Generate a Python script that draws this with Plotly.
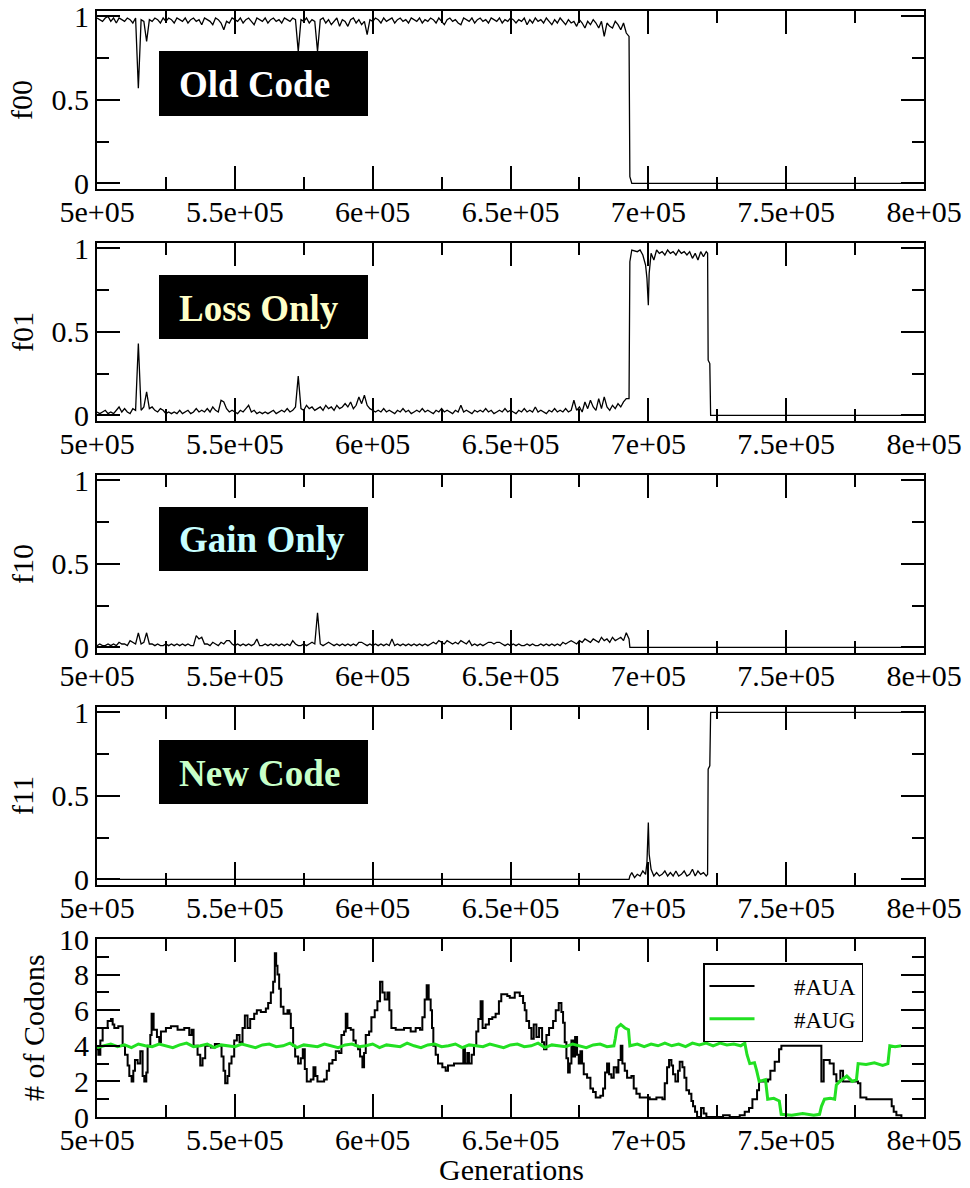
import plotly.graph_objects as go

# ---------------- data ----------------
X_TICK_VALS = [500000, 550000, 600000, 650000, 700000, 750000, 800000]
X_TICK_TEXT = ["5e+05", "5.5e+05", "6e+05", "6.5e+05", "7e+05", "7.5e+05", "8e+05"]
X_MINOR_VALS = [525000, 575000, 625000, 675000, 725000, 775000]
F_TICK_VALS = [0, 0.5, 1]
F_TICK_TEXT = ["0", "0.5", "1"]
F_MINOR_VALS = [0.25, 0.75]
C_TICK_VALS = [0, 2, 4, 6, 8, 10]
C_TICK_TEXT = ["0", "2", "4", "6", "8", "10"]
C_MINOR_VALS = [1, 3, 5, 7, 9]

PANEL_TITLES = ["f00", "f01", "f10", "f11"]
BOX_LABELS = ["Old Code", "Loss Only", "Gain Only", "New Code"]
BOX_TEXT_COLORS = ["#ffffff", "#ffffc8", "#c8ffff", "#c8ffc8"]

# sampled generations for the noisy part (every 1000 generations, 5e5 .. 6.92e5)
F00_GRID_VALS = [0.99, 0.98, 0.97, 0.99, 1.00, 0.97, 0.99, 0.96, 0.99, 0.98,
                 0.97, 0.99, 0.98, 0.96, 0.99, 0.57, 0.98, 0.97, 0.85, 0.98,
                 0.97, 0.99, 0.98, 0.96, 0.99, 0.97, 0.99, 0.98, 0.96, 0.99,
                 0.98, 0.97, 0.99, 0.96, 0.98, 0.99, 0.97, 0.98, 0.95, 0.99,
                 0.98, 0.97, 0.95, 0.99, 0.98, 0.96, 0.92, 0.97, 0.96, 0.99,
                 0.98, 0.97, 0.99, 0.96, 0.98, 0.99, 0.97, 0.95, 0.99, 0.98,
                 0.97, 0.99, 0.96, 0.98, 0.99, 0.97, 0.98, 0.96, 0.99, 0.98,
                 0.97, 0.99, 0.98, 0.79, 0.98, 0.97, 0.99, 0.96, 0.98, 0.97,
                 0.79, 0.98, 0.99, 0.96, 0.98, 0.95, 0.97, 0.99, 0.94, 0.98,
                 0.97, 0.94, 0.98, 0.99, 0.96, 0.98, 0.95, 0.97, 0.89, 0.98,
                 0.97, 0.99, 0.98, 0.96, 0.99, 0.97, 0.98, 0.99, 0.96, 0.98,
                 0.99, 0.97, 0.98, 0.96, 0.99, 0.98, 0.97, 0.99, 0.96, 0.98,
                 0.97, 0.99, 0.98, 0.96, 0.99, 0.97, 0.95, 0.98, 0.99, 0.97,
                 0.98, 0.96, 0.95, 0.99, 0.98, 0.97, 0.99, 0.96, 0.98, 0.99,
                 0.97, 0.98, 0.96, 0.99, 0.98, 0.97, 0.99, 0.96, 0.98, 0.97,
                 0.99, 0.98, 0.96, 0.98, 0.97, 0.99, 0.95, 0.98, 0.96, 0.99,
                 0.97, 0.98, 0.96, 0.99, 0.97, 0.95, 0.98, 0.96, 0.99, 0.97,
                 0.95, 0.98, 0.96, 0.97, 0.94, 0.98, 0.96, 0.93, 0.97, 0.95,
                 0.98, 0.96, 0.93, 0.97, 0.88, 0.96, 0.94, 0.93, 0.97, 0.95,
                 0.92, 0.96, 0.90]
F00_TAIL_GEN = [693000, 693300, 694000, 800000]
F00_TAIL_VAL = [0.88, 0.04, 0.0, 0.0]

F01_GRID_VALS = [0.02, 0.01, 0.02, 0.03, 0.01, 0.02, 0.01, 0.03, 0.05, 0.02,
                 0.04, 0.02, 0.01, 0.04, 0.03, 0.43, 0.03, 0.05, 0.14, 0.04,
                 0.05, 0.03, 0.02, 0.04, 0.03, 0.01, 0.02, 0.01, 0.02, 0.01,
                 0.03, 0.01, 0.02, 0.03, 0.01, 0.02, 0.04, 0.02, 0.03, 0.02,
                 0.04, 0.02, 0.05, 0.03, 0.02, 0.09, 0.08, 0.04, 0.02, 0.03,
                 0.02, 0.01, 0.03, 0.02, 0.04, 0.06, 0.02, 0.03, 0.01, 0.02,
                 0.01, 0.02, 0.01, 0.02, 0.03, 0.01, 0.02, 0.03, 0.02, 0.04,
                 0.02, 0.03, 0.05, 0.235, 0.04, 0.03, 0.06, 0.04, 0.05, 0.03,
                 0.04, 0.05, 0.03, 0.06, 0.04, 0.05, 0.03, 0.06, 0.04, 0.05,
                 0.07, 0.05, 0.08, 0.04, 0.06, 0.11, 0.07, 0.12, 0.06, 0.04,
                 0.03, 0.02, 0.03, 0.02, 0.04, 0.02, 0.03, 0.02, 0.01, 0.03,
                 0.02, 0.04, 0.02, 0.03, 0.01, 0.02, 0.03, 0.02, 0.04, 0.02,
                 0.03, 0.02, 0.01, 0.03, 0.02, 0.04, 0.02, 0.03, 0.02, 0.01,
                 0.03, 0.02, 0.06, 0.02, 0.03, 0.02, 0.01, 0.03, 0.02, 0.03,
                 0.02, 0.04, 0.02, 0.03, 0.01, 0.02, 0.03, 0.02, 0.04, 0.02,
                 0.03, 0.02, 0.01, 0.03, 0.02, 0.04, 0.02, 0.03, 0.02, 0.05,
                 0.02, 0.03, 0.02, 0.01, 0.03, 0.02, 0.04, 0.02, 0.03, 0.02,
                 0.04, 0.02, 0.03, 0.09, 0.03, 0.05, 0.02, 0.08, 0.04, 0.09,
                 0.05, 0.03, 0.10, 0.04, 0.11, 0.05, 0.03, 0.06, 0.04, 0.07,
                 0.05, 0.08, 0.10]
F01_TAIL_GEN = [693000, 693300, 694000, 696000, 697000, 698000, 699000, 699500,
                700000, 700300, 701000, 702000, 703000, 704000, 705000, 706000,
                707000, 708000, 709000, 710000, 711000, 712000, 713000, 714000,
                715000, 716000, 717000, 718000, 719000, 720000, 721000, 721500,
                721700, 722300, 722600, 800000]
F01_TAIL_VAL = [0.10, 0.92, 0.99, 0.98, 0.99, 0.96, 0.90, 0.82,
                0.66, 0.85, 0.97, 0.93, 0.99, 0.97, 0.98, 0.96,
                0.99, 0.97, 0.98, 0.96, 0.99, 0.97, 0.98, 0.96,
                0.98, 0.94, 0.97, 0.93, 0.98, 0.95, 0.98, 0.97,
                0.33, 0.31, 0.0, 0.0]

F10_GRID_VALS = [0.01, 0.02, 0.01, 0.01, 0.02, 0.01, 0.02, 0.01, 0.03, 0.02,
                 0.02, 0.01, 0.04, 0.03, 0.02, 0.087, 0.02, 0.03, 0.087, 0.02,
                 0.02, 0.01, 0.02, 0.01, 0.01, 0.02, 0.01, 0.02, 0.01, 0.02,
                 0.01, 0.02, 0.01, 0.02, 0.01, 0.01, 0.07, 0.05, 0.06, 0.02,
                 0.02, 0.01, 0.03, 0.02, 0.01, 0.03, 0.02, 0.04, 0.04, 0.02,
                 0.01, 0.02, 0.01, 0.02, 0.01, 0.02, 0.01, 0.02, 0.05, 0.01,
                 0.01, 0.02, 0.01, 0.02, 0.01, 0.02, 0.01, 0.02, 0.01, 0.02,
                 0.01, 0.04, 0.02, 0.01, 0.01, 0.02, 0.01, 0.02, 0.03, 0.02,
                 0.207, 0.02, 0.01, 0.02, 0.03, 0.02, 0.01, 0.02, 0.01, 0.02,
                 0.01, 0.02, 0.01, 0.02, 0.01, 0.03, 0.03, 0.02, 0.01, 0.02,
                 0.01, 0.02, 0.01, 0.02, 0.01, 0.02, 0.01, 0.05, 0.01, 0.02,
                 0.01, 0.02, 0.01, 0.02, 0.01, 0.02, 0.01, 0.02, 0.01, 0.02,
                 0.01, 0.02, 0.03, 0.02, 0.04, 0.03, 0.02, 0.04, 0.03, 0.02,
                 0.03, 0.02, 0.04, 0.03, 0.02, 0.04, 0.01, 0.02, 0.01, 0.02,
                 0.01, 0.02, 0.03, 0.03, 0.02, 0.03, 0.03, 0.02, 0.01, 0.02,
                 0.01, 0.02, 0.01, 0.02, 0.01, 0.01, 0.02, 0.01, 0.02, 0.01,
                 0.01, 0.02, 0.01, 0.02, 0.01, 0.02, 0.01, 0.02, 0.01, 0.03,
                 0.02, 0.03, 0.04, 0.03, 0.02, 0.04, 0.03, 0.05, 0.04, 0.03,
                 0.05, 0.04, 0.03, 0.06, 0.04, 0.05, 0.03, 0.06, 0.04, 0.05,
                 0.06, 0.04, 0.087]
F10_TAIL_GEN = [693000, 693300, 800000]
F10_TAIL_VAL = [0.05, 0.0, 0.0]

F11_GEN = [500000, 693000, 693300, 694000, 695000, 696000, 697000, 698000,
           699000, 699500, 700000, 700300, 701000, 702000, 703000, 704000,
           705000, 706000, 707000, 708000, 709000, 710000, 711000, 712000,
           713000, 714000, 715000, 716000, 717000, 718000, 719000, 720000,
           721000, 721500, 721700, 722300, 722600, 800000]
F11_VAL = [0.0, 0.0, 0.02, 0.04, 0.01, 0.03, 0.02, 0.05,
           0.03, 0.10, 0.34, 0.15, 0.06, 0.02, 0.04, 0.02,
           0.03, 0.05, 0.02, 0.04, 0.02, 0.05, 0.02, 0.03,
           0.05, 0.02, 0.03, 0.06, 0.02, 0.05, 0.03, 0.04,
           0.02, 0.03, 0.66, 0.68, 1.0, 1.0]

F_GRID = [500000 + 1000 * i for i in range(len(F00_GRID_VALS))]

# number of AUA codons (step changes)
AUA_GEN = [500000, 500480, 501210, 502050, 503870, 505070, 505680, 506280, 507730, 509300,
           510150, 511110, 511720, 512560, 513170, 513770, 514740, 515700, 516550, 517150,
           517880, 518360, 519330, 519810, 520540, 521740, 522590, 523190, 525000, 526820,
           529230, 531650, 533460, 534310, 535030, 536480, 537450, 538290, 539260, 541310,
           542760, 544330, 545180, 545900, 546500, 547350, 547960, 548800, 549770, 550740,
           551700, 552790, 553640, 554600, 555570, 557020, 557980, 559430, 561250, 562090,
           563060, 563900, 564510, 564990, 565470, 566080, 566680, 567650, 569100, 569820,
           570310, 571150, 571880, 572960, 573930, 574650, 575380, 576100, 577550, 578520,
           579240, 579970, 582390, 583350, 584200, 585410, 586620, 587820, 588670, 589640,
           590240, 590840, 592050, 593020, 593860, 594710, 595430, 596280, 596880, 597490,
           598700, 599540, 600750, 601710, 602680, 603530, 604370, 605340, 606060, 606790,
           608360, 611380, 613790, 615600, 617180, 618020, 618870, 619590, 620320, 621040,
           621530, 622010, 622850, 623700, 625270, 626480, 627320, 629500, 631910, 632880,
           633480, 634330, 634930, 635900, 636750, 637590, 638320, 639160, 639880, 640970,
           642180, 643390, 644600, 645800, 646650, 648830, 649730, 651540, 653360, 654570,
           655170, 655780, 656740, 657590, 658430, 659400, 660370, 661460, 662180, 663030,
           663990, 665450, 666410, 667500, 668470, 669070, 669680, 670280, 670890, 671490,
           672100, 672700, 673430, 674150, 674760, 675360, 675970, 676570, 677780, 678990,
           679950, 680920, 682610, 683580, 684310, 685030, 685760, 686600, 687450, 688420,
           689140, 689990, 690590, 691440, 692290, 693860, 694700, 695670, 696880, 700510,
           702930, 705100, 705950, 706800, 707520, 708370, 708970, 709820, 710780, 711390,
           712360, 713080, 713800, 714770, 715620, 716220, 716950, 717680, 719120, 720090,
           721060, 727110, 729520, 733150, 734960, 736530, 737750, 739440, 740160, 743430,
           744270, 745840, 747420, 748260, 754910, 762170, 762770, 763620, 765790, 767240,
           768210, 769660, 770630, 776070, 776920, 779090, 782720, 787560, 788280, 789010,
           789980, 791800]
AUA_VAL = [3.8, 3.5, 4.3, 5.0, 5.4, 5.5, 5.2, 5.0, 5.1, 4.0,
           3.5, 2.9, 2.3, 2.0, 2.6, 3.2, 3.0, 3.7, 2.3, 2.0,
           2.5, 4.0, 4.6, 5.8, 4.9, 4.5, 4.2, 4.8, 5.0, 5.1,
           4.9, 5.0, 4.6, 4.9, 4.0, 3.5, 2.9, 3.3, 4.0, 3.9,
           4.1, 4.0, 3.4, 2.6, 1.9, 2.3, 3.0, 3.4, 4.3, 4.6,
           4.2, 5.0, 5.7, 5.0, 5.5, 5.8, 6.0, 5.9, 6.1, 6.4,
           7.0, 7.6, 9.2, 8.5, 8.0, 7.2, 6.2, 5.8, 6.0, 5.8,
           5.0, 4.0, 3.4, 3.0, 3.3, 3.8, 2.7, 2.0, 2.1, 2.8,
           2.3, 2.0, 2.1, 2.6, 3.0, 3.2, 3.7, 3.6, 4.6, 4.8,
           5.8, 5.0, 4.9, 4.3, 4.0, 3.8, 3.4, 2.8, 3.6, 4.6,
           4.8, 5.6, 6.0, 6.5, 7.6, 7.0, 6.6, 7.0, 6.0, 5.0,
           4.9, 5.0, 4.8, 5.0, 4.9, 5.6, 6.6, 7.4, 6.6, 6.0,
           5.0, 4.0, 3.5, 3.0, 2.8, 2.6, 2.9, 3.0, 3.0, 3.8,
           3.0, 3.6, 3.0, 3.5, 4.0, 4.8, 5.5, 6.5, 5.0, 5.2,
           5.5, 5.6, 5.8, 6.5, 6.9, 6.8, 6.7, 7.0, 6.8, 6.4,
           6.0, 5.4, 5.0, 4.4, 5.2, 4.5, 5.0, 4.2, 3.8, 4.6,
           5.0, 5.4, 6.0, 6.4, 5.9, 5.3, 4.2, 3.3, 2.5, 3.0,
           4.3, 3.4, 4.5, 3.5, 3.0, 3.7, 3.0, 2.4, 2.2, 1.6,
           1.4, 1.1, 1.2, 1.6, 2.5, 3.0, 2.4, 2.2, 2.8, 2.5,
           3.2, 4.0, 3.0, 2.6, 2.2, 2.3, 1.6, 1.3, 1.1, 1.0,
           1.1, 1.0, 1.9, 2.8, 3.2, 2.9, 2.4, 2.0, 2.6, 3.1,
           2.8, 2.2, 1.5, 1.3, 0.9, 0.6, 0.3, 0.0, 0.5, 0.2,
           0.0, 0.1, 0.0, 0.1, 0.3, 0.5, 1.0, 1.5, 2.0, 2.1,
           2.6, 3.1, 3.8, 4.0, 4.0, 4.0, 2.0, 3.2, 3.0, 2.4,
           2.0, 2.6, 2.0, 1.9, 1.1, 1.0, 1.0, 1.0, 0.6, 0.3,
           0.1, 0.0]

# number of AUG codons: sampled every 2500 generations up to 6.85e5, then read points
AUG_GRID_VALS = [3.9, 4.0, 4.1, 3.95, 4.05, 3.9, 4.1, 4.0, 3.95, 4.1,
                 4.0, 3.9, 4.05, 4.15, 3.95, 4.0, 4.1, 3.9, 4.05, 4.0,
                 3.95, 4.1, 4.0, 3.9, 4.05, 4.1, 3.95, 4.0, 4.15, 3.9,
                 4.05, 4.0, 3.95, 4.1, 4.0, 3.9, 4.05, 4.1, 3.95, 4.0,
                 4.1, 3.9, 4.05, 4.0, 3.95, 4.15, 4.0, 3.9, 4.05, 4.1,
                 3.95, 4.0, 4.1, 3.9, 4.05, 4.0, 3.95, 4.1, 4.0, 3.9,
                 4.05, 4.1, 3.95, 4.0, 4.15, 3.9, 4.05, 4.0, 3.95, 4.1,
                 4.0, 3.9, 4.05, 4.1, 3.95]
AUG_GRID = [500000 + 2500 * i for i in range(len(AUG_GRID_VALS))]
AUG_TAIL_GEN = [687500, 688000, 688600, 690000, 691500, 692800, 693300, 696000, 698500, 701000,
                703500, 706000, 708500, 711000, 713500, 716000, 718500, 721000, 723500, 726000,
                728500, 731000, 733500, 735000, 735800, 736800, 738500, 739300, 740200, 742500,
                743300, 745500, 747500, 748200, 752000, 756000, 760000, 762100, 762800, 763900,
                766000, 767600, 768200, 769400, 772000, 774000, 775500, 776100, 779000, 782000,
                785000, 786900, 787600, 789500, 791800]
AUG_TAIL_VAL = [4.0, 4.4, 5.0, 5.2, 5.0, 4.9, 4.0, 4.1, 3.95, 4.1,
                4.0, 4.15, 4.0, 4.1, 3.95, 4.15, 4.05, 4.15, 4.0, 4.15,
                4.05, 4.1, 4.0, 4.15, 3.5, 3.0, 3.05, 2.6, 2.0, 2.1,
                1.0, 1.05, 0.9, 0.15, 0.1, 0.2, 0.1, 0.15, 0.6, 1.0,
                1.05, 1.0, 1.8, 2.0, 2.3, 2.0, 2.1, 3.0, 2.95, 3.05,
                2.9, 3.0, 4.0, 3.95, 4.0]

# ---------------- layout helpers (screen pixels; the page body adds an 8px offset) ----------------
OFF = 8
SCREEN_W, SCREEN_H = 970, 1188
W, H = SCREEN_W - OFF, SCREEN_H - OFF
PL, PR, PT, PB = 97, 924, 11, 1117          # plot area in screen pixels
PANEL_H, PANEL_STEP = 178, 232


def px_x(px):
    return (px - PL) / (PR - PL)


def px_y(py):
    return (PB - py) / (PB - PT)


FONT = "Liberation Serif, Times New Roman, serif"

fig = go.Figure()

f_series = [
    (F_GRID + F00_TAIL_GEN, F00_GRID_VALS + F00_TAIL_VAL),
    (F_GRID + F01_TAIL_GEN, F01_GRID_VALS + F01_TAIL_VAL),
    (F_GRID + F10_TAIL_GEN, F10_GRID_VALS + F10_TAIL_VAL),
    (F11_GEN, F11_VAL),
]

for k, (xs, ys) in enumerate(f_series):
    fig.add_trace(go.Scatter(x=xs, y=ys, mode="lines",
                             line=dict(color="black", width=1.3),
                             xaxis=f"x{k+1}", yaxis=f"y{k+1}", showlegend=False))

NBSP = "\u00a0"
fig.add_trace(go.Scatter(x=AUA_GEN, y=AUA_VAL, mode="lines", name=NBSP * 6 + "#AUA",
                         line=dict(color="black", width=2.0, shape="hv"),
                         xaxis="x5", yaxis="y5"))
fig.add_trace(go.Scatter(x=AUG_GRID + AUG_TAIL_GEN, y=AUG_GRID_VALS + AUG_TAIL_VAL,
                         mode="lines", name=NBSP * 6 + "#AUG",
                         line=dict(color="#22e022", width=3.0),
                         xaxis="x5", yaxis="y5"))

axis_common = dict(showline=True, linewidth=2, linecolor="black", mirror="allticks",
                   ticks="inside", tickwidth=2, tickcolor="black", ticklen=23,
                   showgrid=False, zeroline=False, automargin=False,
                   ticklabeloverflow="allow",
                   tickfont=dict(family=FONT, size=30, color="black"))

layout = dict(template="none", width=W, height=H, paper_bgcolor="white", plot_bgcolor="white",
              font=dict(family=FONT, color="black"),
              margin=dict(l=PL - OFF, r=SCREEN_W - PR, t=PT - OFF, b=SCREEN_H - PB, pad=0),
              showlegend=True)

for k in range(5):
    top_px = PT + k * PANEL_STEP
    bot_px = top_px + PANEL_H
    dom = [px_y(bot_px), px_y(top_px)]
    xa = dict(axis_common, domain=[0, 1], range=[500000, 800000], anchor=f"y{k+1}",
              tickmode="array", tickvals=X_TICK_VALS, ticktext=X_TICK_TEXT,
              ticklabelstandoff=-5,
              minor=dict(ticks="inside", ticklen=12, tickwidth=2, tickcolor="black",
                         tickmode="array", tickvals=X_MINOR_VALS))
    if k < 4:
        ya = dict(axis_common, domain=dom, range=[-0.034, 1.032], anchor=f"x{k+1}",
                  tickmode="array", tickvals=F_TICK_VALS, ticktext=F_TICK_TEXT,
                  ticklabelstandoff=0,
                  minor=dict(ticks="inside", ticklen=12, tickwidth=2, tickcolor="black",
                             tickmode="array", tickvals=F_MINOR_VALS))
    else:
        ya = dict(axis_common, domain=dom, range=[0, 10], anchor=f"x{k+1}",
                  tickmode="array", tickvals=C_TICK_VALS, ticktext=C_TICK_TEXT,
                  ticklabelstandoff=0,
                  minor=dict(ticks="inside", ticklen=12, tickwidth=2, tickcolor="black",
                             tickmode="array", tickvals=C_MINOR_VALS))
    layout["xaxis" if k == 0 else f"xaxis{k+1}"] = xa
    layout["yaxis" if k == 0 else f"yaxis{k+1}"] = ya

layout["legend"] = dict(x=px_x(703), y=px_y(963), xanchor="left", yanchor="top",
                        bgcolor="white", bordercolor="black", borderwidth=1.5,
                        font=dict(family=FONT, size=23, color="black"),
                        itemwidth=45, tracegroupgap=0)

fig.update_layout(**layout)

# label boxes
BOX_Y = [(51, 116), (275, 339), (507, 571), (740, 804)]
for k in range(4):
    y0, y1 = BOX_Y[k]
    fig.add_shape(type="rect", xref="paper", yref="paper",
                  x0=px_x(159), x1=px_x(368), y0=px_y(y1), y1=px_y(y0),
                  fillcolor="black", line=dict(width=0), layer="above")
    fig.add_annotation(xref="paper", yref="paper", x=px_x(177), y=px_y((y0 + y1) / 2 + 1),
                       xanchor="left", yanchor="middle", showarrow=False,
                       text=f"<b>{BOX_LABELS[k]}</b>",
                       font=dict(family=FONT, size=37, color=BOX_TEXT_COLORS[k]))
    # y-axis titles
    fig.add_annotation(xref="paper", yref="paper", x=px_x(22),
                       y=px_y(PT + k * PANEL_STEP + PANEL_H / 2),
                       xanchor="center", yanchor="middle", showarrow=False, textangle=-90,
                       text=PANEL_TITLES[k], font=dict(family=FONT, size=30, color="black"))

fig.add_annotation(xref="paper", yref="paper", x=px_x(33),
                   y=px_y(PT + 4 * PANEL_STEP + PANEL_H / 2),
                   xanchor="center", yanchor="middle", showarrow=False, textangle=-90,
                   text="# of Codons", font=dict(family=FONT, size=30, color="black"))
fig.add_annotation(xref="paper", yref="paper", x=px_x(511), y=px_y(1169),
                   xanchor="center", yanchor="middle", showarrow=False,
                   text="Generations", font=dict(family=FONT, size=30, color="black"))

fig.write_html("out.html")
